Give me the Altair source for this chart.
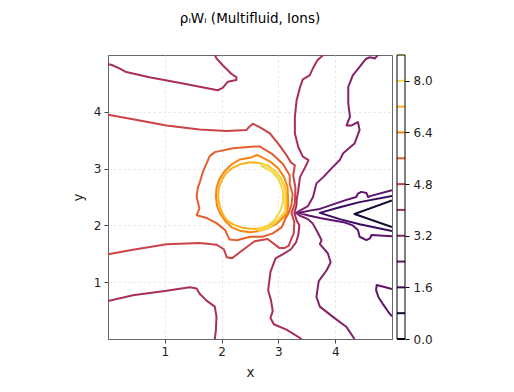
import altair as alt
import pandas as pd

# contour levels and their colours (inferno)
levels = [0.0, 0.8, 1.6, 2.4, 3.2, 4.0, 4.8, 5.6, 6.4, 7.2, 8.0, 8.8]
level_colors = ["#000004", "#140b34", "#3a0a60", "#5f136c", "#85216b", "#a92e5e",
                "#cb4348", "#e55f2e", "#f7850f", "#fbb11a", "#f5d746", "#fcffa4"]
cbar_ticks = [0.0, 1.6, 3.2, 4.8, 6.4, 8.0]
axis_ticks = [1, 2, 3, 4]

# contour lines (data units)
c08_x = [5.0, 4.34, 5.0]
c08_y = [2.44, 2.20, 1.97]

c16_x = [5.0, 4.43, 4.08, 3.73, 4.08, 4.43, 5.0]
c16_y = [2.52, 2.41, 2.32, 2.22, 2.11, 2.02, 1.90]

c24a_x = [5.0, 4.63, 4.58, 4.55, 4.46, 4.40, 4.37, 4.17, 3.73, 3.55, 3.35, 3.55, 3.73,
          4.17, 4.31, 4.40, 4.43, 4.55, 4.61, 4.64, 5.0]
c24a_y = [2.62, 2.52, 2.50, 2.57, 2.59, 2.56, 2.50, 2.44, 2.29, 2.26, 2.22, 2.17, 2.13,
          2.05, 2.00, 1.92, 1.80, 1.74, 1.77, 1.83, 1.81]

c24b_x = [5.0, 4.85, 4.73, 4.72, 4.76, 4.85, 4.94, 5.0]
c24b_y = [0.88, 0.92, 0.95, 0.86, 0.74, 0.60, 0.47, 0.40]

c32_x = [4.75, 4.70, 4.61, 4.54, 4.43, 4.31, 4.23, 4.23, 4.26, 4.20, 4.29, 4.40, 4.43,
         4.34, 4.14, 4.08, 3.96, 3.79, 3.67, 3.61, 3.52, 3.38, 3.31, 3.38, 3.52, 3.60,
         3.69, 3.76, 3.73, 3.87, 3.92, 3.85, 3.71, 3.67, 3.73, 3.96, 4.20, 4.34]
c32_y = [5.0, 4.94, 4.96, 4.93, 4.79, 4.64, 4.44, 4.15, 3.91, 3.76, 3.76, 3.82, 3.68,
         3.44, 3.27, 3.15, 3.03, 2.85, 2.74, 2.50, 2.34, 2.26, 2.22, 2.17, 2.11, 2.04,
         1.88, 1.74, 1.67, 1.51, 1.35, 1.21, 1.02, 0.74, 0.57, 0.39, 0.21, 0.0]

c40a_x = [0.0, 0.08, 0.21, 0.32, 0.73, 1.32, 1.93, 2.02, 2.11, 2.26, 2.26, 2.17, 2.02, 1.91, 1.88]
c40a_y = [4.84, 4.82, 4.76, 4.70, 4.61, 4.50, 4.38, 4.42, 4.53, 4.56, 4.61, 4.67, 4.82, 4.94, 5.0]

c40b_x = [0.0, 0.44, 1.03, 1.44, 1.56, 1.61, 1.73, 1.88, 1.91, 1.90, 1.88]
c40b_y = [0.67, 0.77, 0.85, 0.91, 0.89, 0.80, 0.68, 0.57, 0.39, 0.16, 0.0]

c40c_x = [3.79, 3.69, 3.61, 3.55, 3.43, 3.38, 3.32, 3.29, 3.29, 3.35, 3.43, 3.53, 3.48,
          3.38, 3.35, 3.32, 3.32, 3.28, 3.32, 3.37, 3.35, 3.31, 3.22, 3.09, 2.95, 2.86,
          2.82, 2.87, 2.90, 2.86, 2.92, 3.15, 3.41]
c40c_y = [5.0, 4.91, 4.77, 4.64, 4.57, 4.43, 4.20, 3.91, 3.62, 3.38, 3.21, 3.15, 3.04,
          2.85, 2.62, 2.44, 2.36, 2.22, 2.09, 2.00, 1.83, 1.70, 1.58, 1.50, 1.42, 1.18,
          0.86, 0.68, 0.49, 0.37, 0.26, 0.16, 0.0]

c48_x = [0.0, 0.44, 1.03, 1.61, 2.09, 2.44, 2.48, 2.55, 2.67, 2.85, 3.02, 3.14, 3.22,
         3.29, 3.26, 3.30, 3.29, 3.23, 3.28, 3.27, 3.21, 3.18, 3.10, 3.02, 2.81, 2.58,
         2.35, 2.18, 2.09, 2.04, 1.91, 1.61, 1.03, 0.44, 0.0]
c48_y = [3.95, 3.87, 3.76, 3.69, 3.66, 3.68, 3.73, 3.79, 3.73, 3.62, 3.41, 3.24, 3.11,
         3.06, 2.88, 2.66, 2.39, 2.22, 2.06, 1.86, 1.72, 1.64, 1.60, 1.60, 1.76, 1.72,
         1.55, 1.42, 1.44, 1.58, 1.66, 1.69, 1.67, 1.57, 1.49]

c56_x = [1.79, 1.88, 2.20, 2.58, 2.67, 2.90, 3.08, 3.20, 3.20, 3.25, 3.23, 3.18, 3.13,
         3.06, 2.90, 2.72, 2.50, 2.27, 2.14, 2.06, 1.91, 1.74, 1.56, 1.61, 1.56, 1.58,
         1.61, 1.67, 1.74, 1.79]
c56_y = [3.22, 3.29, 3.36, 3.39, 3.39, 3.25, 3.08, 2.88, 2.73, 2.55, 2.36, 2.22, 2.13,
         1.97, 1.86, 1.80, 1.80, 1.74, 1.75, 1.92, 2.04, 2.13, 2.18, 2.30, 2.50, 2.66,
         2.74, 2.94, 3.10, 3.22]

c64_x = [3.17, 3.16, 3.10, 3.00, 2.86, 2.69, 2.62, 2.50, 2.32, 2.17, 2.05, 1.96, 1.91,
         1.90, 1.92, 1.98, 2.07, 2.19, 2.34, 2.50, 2.66, 2.82, 2.97, 3.15, 3.17, 3.17]
c64_y = [2.50, 2.68, 2.85, 3.00, 3.12, 3.21, 3.24, 3.19, 3.16, 3.07, 2.95, 2.81, 2.66,
         2.50, 2.34, 2.20, 2.07, 1.96, 1.90, 1.88, 1.90, 1.95, 2.03, 2.20, 2.34, 2.50]

c72_x = [3.14, 3.12, 3.05, 2.95, 2.82, 2.66, 2.50, 2.34, 2.20, 2.08, 2.00, 1.95, 1.94,
         1.96, 2.01, 2.09, 2.22, 2.36, 2.50, 2.65, 2.80, 2.96, 3.12, 3.14, 3.14]
c72_y = [2.50, 2.67, 2.82, 2.95, 3.05, 3.10, 3.11, 3.08, 3.02, 2.92, 2.79, 2.65, 2.50,
         2.36, 2.22, 2.09, 2.01, 1.96, 1.94, 1.94, 1.98, 2.07, 2.22, 2.36, 2.50]

c80_x = [2.72, 2.91, 3.05, 3.12, 3.12, 3.12, 2.95, 2.82, 2.66, 2.65, 2.80, 2.92, 3.03,
         3.08, 3.08, 3.01, 2.88, 2.70, 2.72]
c80_y = [3.09, 2.98, 2.82, 2.61, 2.39, 2.25, 2.05, 1.95, 1.90, 1.93, 1.99, 2.08, 2.25,
         2.40, 2.60, 2.80, 2.95, 3.05, 3.09]

contours = [
    (0.8, c08_x, c08_y), (1.6, c16_x, c16_y), (2.4, c24a_x, c24a_y), (2.4, c24b_x, c24b_y),
    (3.2, c32_x, c32_y), (4.0, c40a_x, c40a_y), (4.0, c40b_x, c40b_y), (4.0, c40c_x, c40c_y),
    (4.8, c48_x, c48_y), (5.6, c56_x, c56_y), (6.4, c64_x, c64_y), (7.2, c72_x, c72_y),
    (8.0, c80_x, c80_y),
]

rows = []
for cid, (lvl, xs, ys) in enumerate(contours):
    for i, (xv, yv) in enumerate(zip(xs, ys)):
        rows.append({"cid": cid, "i": i, "level": lvl, "x": xv, "y": yv})
df = pd.DataFrame(rows)
cbar_df = pd.DataFrame({"level": levels})

FONT = "DejaVu Sans"
color_scale = alt.Scale(domain=levels, range=level_colors)

lines = alt.Chart(df).mark_line(strokeWidth=2, clip=True, strokeJoin="round").encode(
    x=alt.X("x:Q", scale=alt.Scale(domain=[0, 5], nice=False, zero=False),
            axis=alt.Axis(values=axis_ticks, title="x", format="d", grid=True,
                          titlePadding=8)),
    y=alt.Y("y:Q", scale=alt.Scale(domain=[0, 5], nice=False, zero=False),
            axis=alt.Axis(values=axis_ticks, title="y", format="d", grid=True,
                          titlePadding=8)),
    color=alt.Color("level:O", scale=color_scale, legend=None),
    detail="cid:N",
    order="i:Q",
)

cbar_rules = alt.Chart(cbar_df).mark_rule(strokeWidth=2).encode(
    x=alt.value(289), x2=alt.value(297),
    y=alt.Y("level:Q", scale=alt.Scale(domain=[0, 8.8], nice=False, zero=False),
            axis=alt.Axis(orient="right", values=cbar_ticks, format=".1f", offset=13,
                          title=None, grid=False, domain=False, tickColor="black",
                          tickSize=4, labelPadding=4)),
    color=alt.Color("level:O", scale=color_scale, legend=None),
)

cbar_frame = alt.Chart(pd.DataFrame({"k": [0]})).mark_rect(
    fillOpacity=0, stroke="black", strokeWidth=1
).encode(x=alt.value(289), x2=alt.value(297), y=alt.value(0), y2=alt.value(284))

chart = alt.layer(lines, cbar_rules, cbar_frame).resolve_scale(y="independent").properties(
    width=284, height=284,
    background="white",
    title=alt.TitleParams("ρᵢWᵢ (Multifluid, Ions)", font=FONT, fontSize=13.5,
                          fontWeight="normal", anchor="middle", frame="group",
                          offset=29, color="black"),
    autosize=alt.AutoSizeParams(type="none"),
    padding={"left": 100, "top": 47, "right": 114, "bottom": 45},
).configure_view(stroke="#666666", strokeWidth=1).configure_axis(
    labelFont=FONT, titleFont=FONT, labelFontSize=12, titleFontSize=13.5,
    titleFontWeight="normal", labelColor="#222222", titleColor="#222222",
    domainColor="#666666", tickColor="#444444", tickSize=4, labelPadding=3,
    gridColor="#e2e2e2", gridDash=[2.5, 2.5], gridWidth=0.8,
)

chart.save("out.html", embed_options={"renderer": "svg", "actions": False})
